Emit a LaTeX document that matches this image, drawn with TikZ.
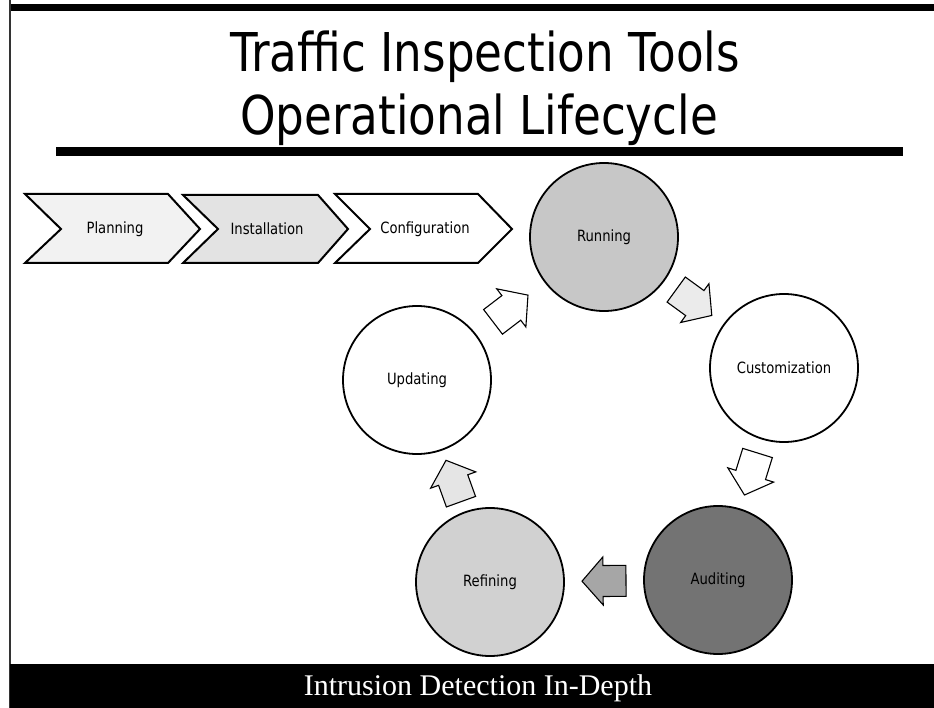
\documentclass[tikz,border=0pt]{standalone}
\usepackage{fontspec}
\setmainfont{DejaVu Sans}
\newfontfamily\footfont{Liberation Serif}
\usetikzlibrary{calc}
\newcommand\sqz[1]{\scalebox{0.85}[1]{#1}}
\newcommand\blockarrow[3]{%
  \path let \p1=($(#2)-(#1)$), \n1={atan2(\y1,\x1)} in \pgfextra{\xdef\barang{\n1}};
  \begin{scope}[shift={($(#1)!0.5!(#2)$)}, rotate=\barang]
    \draw[arrowline, fill=#3] (-22,15.5) -- (1,15.5) -- (1,24) -- (22,0) -- (1,-24) -- (1,-15.5) -- (-22,-15.5) -- cycle;
  \end{scope}}
\tikzset{
  circ/.style={circle, draw=black, line width=1.8pt, minimum size=148pt, inner sep=0pt,
    font=\fontsize{15.5}{18}\selectfont},
  chev/.style={draw=black, line width=2pt, line join=miter},
  chevtext/.style={font=\fontsize{15.5}{18}\selectfont, inner sep=0pt},
  arrowline/.style={draw=black, line width=1.1pt, line join=miter},
}
\begin{document}
\begin{tikzpicture}[x=1pt, y=-1pt]
\useasboundingbox (0,0) rectangle (934,708);
\fill[white] (0,0) rectangle (934,708);
% frame
\fill[black] (9,4) rectangle (934,11);
\draw[black!80, line width=2pt] (10,0) -- (10,708);
\fill[black] (10,664) rectangle (934,708);
% title
\node[anchor=base, inner sep=0pt, font=\fontsize{53.5}{60}\selectfont] (t1) at (485,72) {\scalebox{0.845}[1]{Traffic Inspection Tools}};
\node[anchor=base, inner sep=0pt, font=\fontsize{53.5}{60}\selectfont] (t2) at (479,135) {\scalebox{0.845}[1]{Operational Lifecycle}};
\fill[black] (56,147) rectangle (903,156);
% chevrons
\draw[chev, fill=black!5] (25,194) -- (168,194) -- (200,229) -- (168,263) -- (25,263) -- (61,229) -- cycle;
\draw[chev, fill=black!11] (183,195) -- (318,195) -- (348,229) -- (318,263) -- (183,263) -- (218,229) -- cycle;
\draw[chev, fill=white] (335,194) -- (478,194) -- (512,229) -- (478,263) -- (335,263) -- (370,229) -- cycle;
\node[chevtext] (plan) at (115,229) {\sqz{Planning}};
\node[chevtext] (inst) at (267,229) {\sqz{Installation}};
\node[chevtext] (conf) at (425,229) {\sqz{Configuration}};
% cycle
\node[circ, fill=black!22] (run) at (604,237) {\sqz{Running}};
\node[circ, fill=white] (cust) at (784,368) {\sqz{Customization}};
\node[circ, fill=black!55] (aud) at (718,580) {\sqz{Auditing}};
\node[circ, fill=black!18] (ref) at (490,582) {\sqz{Refining}};
\node[circ, fill=white] (upd) at (417,380) {\sqz{Updating}};
\blockarrow{upd}{run}{white}
\blockarrow{run}{cust}{black!8}
\blockarrow{cust}{aud}{white}
\blockarrow{aud}{ref}{black!35}
\blockarrow{ref}{upd}{black!10}
% footer
\node[anchor=base, inner sep=0pt, text=white, font=\footfont\fontsize{30}{34}\selectfont] (foot) at (478,695) {Intrusion Detection In-Depth};
\end{tikzpicture}
\end{document}
